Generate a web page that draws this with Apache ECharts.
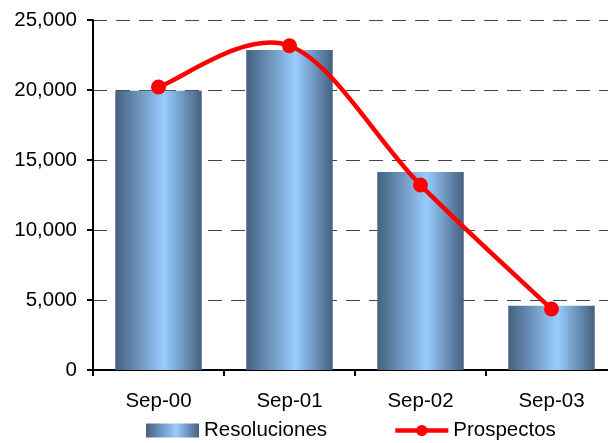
<!DOCTYPE html>
<html>
<head>
<meta charset="UTF-8">
<title>Resoluciones y Prospectos</title>
<script src="https://cdn.jsdelivr.net/npm/echarts@6/dist/echarts.min.js"></script>
<style>
  html, body { margin: 0; padding: 0; background: #fff; }
  #chart { width: 608px; height: 443px; }
</style>
</head>
<body>
<div id="chart"></div>
<script>
// data
var categories = ['Sep-00', 'Sep-01', 'Sep-02', 'Sep-03'];
var resoluciones = [19950, 22860, 14140, 4590];
var prospectos = [20210, 23160, 13210, 4360];

var chart = echarts.init(document.getElementById('chart'));

var barGradient = new echarts.graphic.LinearGradient(0, 0, 1, 0, [
  { offset: 0, color: '#45607f' },
  { offset: 0.57, color: '#99ccff' },
  { offset: 1, color: '#45607f' }
]);

// office-style smooth curve (catmull-rom, tension 1/6) through the points,
// positioned with the chart's own coord system
function renderCurve(params, api) {
  if (params.dataIndex !== 0) return null;
  var pts = prospectos.map(function (v, i) { return api.coord([i, v]); });
  var n = pts.length;
  var d = 'M' + pts[0][0] + ' ' + pts[0][1];
  for (var i = 0; i < n - 1; i++) {
    var p0 = pts[Math.max(i - 1, 0)];
    var p1 = pts[i];
    var p2 = pts[i + 1];
    var p3 = pts[Math.min(i + 2, n - 1)];
    var c1x = p1[0] + (p2[0] - p0[0]) / 6;
    var c1y = p1[1] + (p2[1] - p0[1]) / 6;
    var c2x = p2[0] - (p3[0] - p1[0]) / 6;
    var c2y = p2[1] - (p3[1] - p1[1]) / 6;
    d += ' C' + c1x + ' ' + c1y + ' ' + c2x + ' ' + c2y + ' ' + p2[0] + ' ' + p2[1];
  }
  return {
    type: 'path',
    shape: { pathData: d },
    style: { fill: null, stroke: '#ff0000', lineWidth: 4.5 }
  };
}

var option = {
  animation: false,
  textStyle: { fontFamily: 'Liberation Sans, Arial, sans-serif' },
  // plot runs past the right edge of the picture, like the original crop
  grid: { left: 93, top: 20, width: 524, bottom: 73, outerBoundsMode: 'none' },
  legend: {
    bottom: -3,
    left: 141,
    itemWidth: 53,
    itemHeight: 14,
    itemGap: 66,
    textStyle: { fontSize: 20.5, color: '#000' },
    data: [
      { name: 'Resoluciones', icon: 'rect' },
      { name: 'Prospectos', lineStyle: { opacity: 1, width: 4.5, color: '#ff0000' } }
    ]
  },
  xAxis: {
    type: 'category',
    data: categories,
    axisLine: { lineStyle: { color: '#000', width: 2 } },
    axisTick: { show: true, length: 6, lineStyle: { color: '#000', width: 2 } },
    axisLabel: { color: '#000', fontSize: 20.5, margin: 21 }
  },
  yAxis: {
    type: 'value',
    min: 0,
    max: 25000,
    interval: 5000,
    axisLine: { show: true, lineStyle: { color: '#000', width: 2 } },
    axisTick: { show: true, length: 6, lineStyle: { color: '#000', width: 2 } },
    axisLabel: {
      color: '#000',
      fontSize: 20.5,
      margin: 16,
      formatter: function (v) { return v.toLocaleString('en-US'); }
    },
    splitLine: {
      show: true,
      lineStyle: { color: '#444', width: 1, type: [14, 9] }
    }
  },
  series: [
    {
      name: 'Resoluciones',
      type: 'bar',
      data: resoluciones,
      barWidth: '66%',
      itemStyle: { color: barGradient }
    },
    {
      name: 'curve',
      type: 'custom',
      data: prospectos.map(function (v, i) { return [i, v]; }),
      encode: { x: 0, y: 1 },
      renderItem: renderCurve,
      z: 3
    },
    {
      name: 'Prospectos',
      type: 'line',
      data: prospectos,
      symbol: 'circle',
      symbolSize: 15,
      itemStyle: { color: '#ff0000' },
      lineStyle: { opacity: 0 },
      z: 4
    }
  ]
};

chart.setOption(option);
</script>
</body>
</html>
